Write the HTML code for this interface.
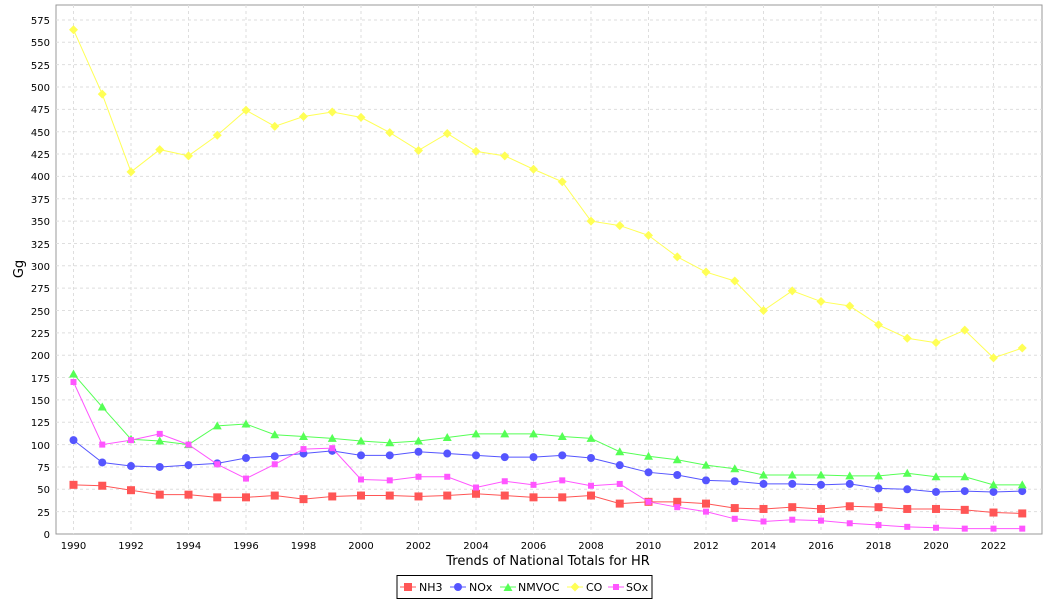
<!DOCTYPE html>
<html><head><meta charset="utf-8"><style>
html,body{margin:0;padding:0;background:#fff;}
svg{display:block;font-family:"DejaVu Sans","Liberation Sans",sans-serif;}
</style></head><body>
<svg id="c" width="1050" height="600" xmlns="http://www.w3.org/2000/svg">
<rect x="56" y="5" width="986" height="529" fill="#fff" stroke="#999" stroke-width="1"/>
<g id="grid" stroke="#dedede" stroke-dasharray="3,3" stroke-width="1"></g>
<g font-size="10" text-anchor="end" fill="#000">
<text x="50" y="538">0</text><text x="50" y="516">25</text><text x="50" y="493">50</text><text x="50" y="471">75</text><text x="50" y="449">100</text><text x="50" y="426">125</text><text x="50" y="404">150</text><text x="50" y="382">175</text><text x="50" y="359">200</text><text x="50" y="337">225</text><text x="50" y="315">250</text><text x="50" y="292">275</text><text x="50" y="270">300</text><text x="50" y="248">325</text><text x="50" y="225">350</text><text x="50" y="203">375</text><text x="50" y="180">400</text><text x="50" y="158">425</text><text x="50" y="136">450</text><text x="50" y="113">475</text><text x="50" y="91">500</text><text x="50" y="69">525</text><text x="50" y="46">550</text><text x="50" y="24">575</text>
</g>
<g font-size="10" text-anchor="middle" fill="#000">
<text x="73.5" y="549">1990</text><text x="131" y="549">1992</text><text x="188.5" y="549">1994</text><text x="246" y="549">1996</text><text x="303.5" y="549">1998</text><text x="361" y="549">2000</text><text x="418.5" y="549">2002</text><text x="476" y="549">2004</text><text x="533.5" y="549">2006</text><text x="591" y="549">2008</text><text x="648.5" y="549">2010</text><text x="706" y="549">2012</text><text x="763.5" y="549">2014</text><text x="821" y="549">2016</text><text x="878.5" y="549">2018</text><text x="936" y="549">2020</text><text x="993.5" y="549">2022</text>
</g>
<text x="548" y="565" font-size="13" text-anchor="middle">Trends of National Totals for HR</text>
<text transform="translate(23,269) rotate(-90)" font-size="13" text-anchor="middle">Gg</text>
<g id="series"></g>
<rect x="397" y="575.5" width="255" height="23" fill="#fff" stroke="#000" stroke-width="1"/>
<g font-size="11">
<line x1="400" y1="587" x2="416" y2="587" stroke="#ff5555"/><rect x="404" y="583" width="8" height="8" fill="#ff5555"/><text x="419" y="591">NH3</text>
<line x1="450" y1="587" x2="466" y2="587" stroke="#5555ff"/><circle cx="458" cy="587" r="4" fill="#5555ff"/><text x="469" y="591">NOx</text>
<line x1="500" y1="587" x2="516" y2="587" stroke="#55ff55"/><path d="M508,583 L512.5,591 L503.5,591Z" fill="#55ff55"/><text x="518" y="591">NMVOC</text>
<line x1="567" y1="587" x2="583" y2="587" stroke="#ffff55"/><path d="M575,582.5 L579.5,587 L575,591.5 L570.5,587Z" fill="#ffff55"/><text x="586" y="591">CO</text>
<line x1="608" y1="587" x2="624" y2="587" stroke="#ff55ff"/><rect x="613" y="584" width="6" height="6" fill="#ff55ff"/><text x="626" y="591">SOx</text>
</g>
</svg>
<script>
var NS="http://www.w3.org/2000/svg";
function X(i){return 73.5+i*28.75;}
function Y(v){return 534-v*0.894;}
var g=document.getElementById("grid");
for(var k=1;k<=23;k++){var l=document.createElementNS(NS,"line");l.setAttribute("x1",56);l.setAttribute("x2",1042);l.setAttribute("y1",Y(k*25));l.setAttribute("y2",Y(k*25));g.appendChild(l);}
for(var k=0;k<=16;k++){var l=document.createElementNS(NS,"line");l.setAttribute("x1",X(2*k));l.setAttribute("x2",X(2*k));l.setAttribute("y1",5);l.setAttribute("y2",534);g.appendChild(l);}
var S=[
["#ff5555","sq",[55,54,49,44,44,41,41,43,39,42,43,43,42,43,45,43,41,41,43,34,36,36,34,29,28,30,28,31,30,28,28,27,24,23]],
["#5555ff","c",[105,80,76,75,77,79,85,87,90,93,88,88,92,90,88,86,86,88,85,77,69,66,60,59,56,56,55,56,51,50,47,48,47,48]],
["#55ff55","t",[179,142,106,104,100,121,123,111,109,107,104,102,104,108,112,112,112,109,107,92,87,83,77,73,66,66,66,65,65,68,64,64,55,55]],
["#ffff55","d",[564,492,405,430,423,446,474,456,467,472,466,449,429,448,428,423,408,394,350,345,334,310,293,283,250,272,260,255,234,219,214,228,197,208]],
["#ff55ff","s",[170,100,105,112,100,78,62,78,95,96,61,60,64,64,52,59,55,60,54,56,36,30,25,17,14,16,15,12,10,8,7,6,6,6]]];
var sg=document.getElementById("series");
S.forEach(function(s){
 var pts=s[2].map(function(v,i){return X(i)+","+Y(v);}).join(" ");
 var p=document.createElementNS(NS,"polyline");p.setAttribute("points",pts);p.setAttribute("fill","none");p.setAttribute("stroke",s[0]);p.setAttribute("stroke-width","1");sg.appendChild(p);
 s[2].forEach(function(v,i){var x=X(i),y=Y(v),e;
  if(s[1]=="sq"){e=document.createElementNS(NS,"rect");e.setAttribute("x",x-4);e.setAttribute("y",y-4);e.setAttribute("width",8);e.setAttribute("height",8);}
  else if(s[1]=="s"){e=document.createElementNS(NS,"rect");e.setAttribute("x",x-3);e.setAttribute("y",y-3);e.setAttribute("width",6);e.setAttribute("height",6);}
  else if(s[1]=="c"){e=document.createElementNS(NS,"circle");e.setAttribute("cx",x);e.setAttribute("cy",y);e.setAttribute("r",4);}
  else if(s[1]=="t"){e=document.createElementNS(NS,"path");e.setAttribute("d","M"+x+","+(y-4.5)+" L"+(x+4.5)+","+(y+3.5)+" L"+(x-4.5)+","+(y+3.5)+"Z");}
  else {e=document.createElementNS(NS,"path");e.setAttribute("d","M"+x+","+(y-4.5)+" L"+(x+4.5)+","+y+" L"+x+","+(y+4.5)+" L"+(x-4.5)+","+y+"Z");}
  e.setAttribute("fill",s[0]);sg.appendChild(e);});
});
</script>
</body></html>
